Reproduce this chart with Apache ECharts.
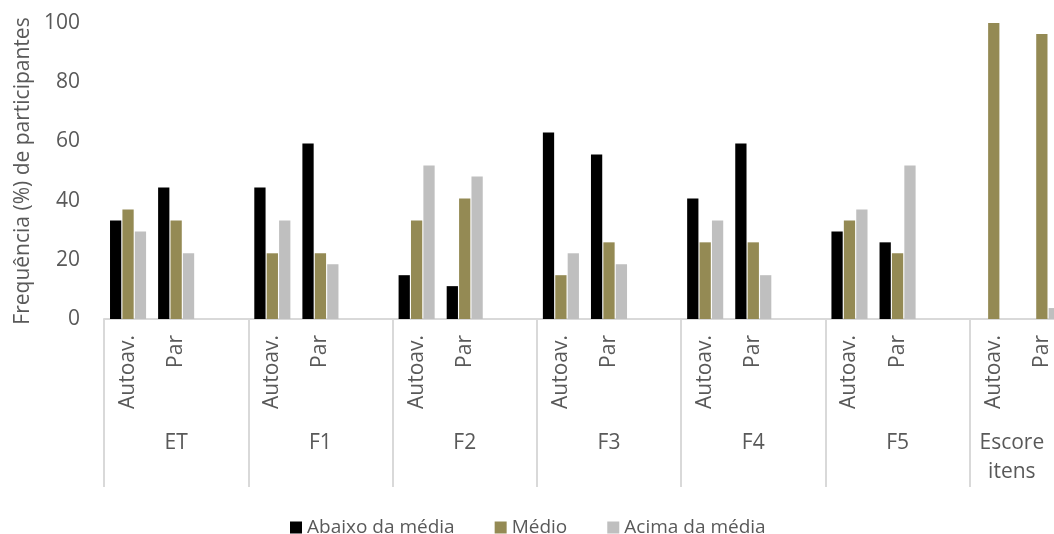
<!DOCTYPE html>
<html>
<head>
<meta charset="utf-8">
<script src="https://cdn.jsdelivr.net/npm/echarts@6/dist/echarts.min.js"></script>
<style>
html,body{margin:0;padding:0;background:#fff;overflow:hidden;width:1054px;height:534px;}
#chart{width:1114px;height:534px;}
</style>
</head>
<body>
<div id="chart"></div>
<script>
// Data
const groups = ['ET', 'F1', 'F2', 'F3', 'F4', 'F5', 'Escore\nitens'];
const subCategories = ['Autoav.', 'Par'];
const seriesNames = ['Abaixo da média', 'Médio', 'Acima da média'];
// values in order: ET Autoav, ET Par, F1 Autoav, F1 Par, ... Escore Autoav, Escore Par
const abaixo = [33.3, 44.4, 44.4, 59.3, 14.8, 11.1, 63.0, 55.6, 40.7, 59.3, 29.6, 25.9, 0, 0];
const medio  = [37.0, 33.3, 22.2, 22.2, 33.3, 40.7, 14.8, 25.9, 25.9, 25.9, 33.3, 22.2, 100, 96.3];
const acima  = [29.6, 22.2, 33.3, 18.5, 51.9, 48.1, 22.2, 18.5, 33.3, 14.8, 37.0, 51.9, 0, 3.7];
const yTicks = { min: 0, max: 100, interval: 20 };

// Build category slots: each group has its sub-categories plus one empty spacer slot
const slotLabels = [];
groups.forEach(() => { subCategories.forEach(s => slotLabels.push(s)); slotLabels.push(''); });
function expand(arr) {
  const out = [];
  let k = 0;
  groups.forEach(() => {
    subCategories.forEach(() => { out.push(arr[k++]); });
    out.push(null);
  });
  return out;
}
const colors = ['#000000', '#948A54', '#BFBFBF'];
const values = [abaixo, medio, acima];

const textColor = '#595959';
const font = '"Open Sans", "Noto Sans", sans-serif';

// last group is partly outside the visible area: its label is centred on the visible part
const groupAxisData = groups.map((g, i) => i === groups.length - 1
  ? { value: g, textStyle: { padding: [0, 60, 0, 0] } }
  : g);

const chart = echarts.init(document.getElementById('chart'), null, { renderer: 'canvas' });
chart.setOption({
  animation: false,
  backgroundColor: '#ffffff',
  textStyle: { fontFamily: font, color: textColor },
  grid: { left: 104, right: 0, top: 23, bottom: 215, containLabel: false, outerBoundsMode: 'none' },
  legend: {
    data: seriesNames,
    left: 285,
    top: 513,
    itemWidth: 12,
    itemHeight: 12,
    itemGap: 40,
    icon: 'rect',
    textStyle: { fontSize: 19, color: textColor, fontFamily: font }
  },
  xAxis: [
    {
      type: 'category',
      data: slotLabels,
      position: 'bottom',
      axisLine: { show: true, lineStyle: { color: '#D9D9D9', width: 2 } },
      axisTick: { show: false },
      axisLabel: { rotate: 90, interval: 0, margin: 16, fontSize: 21, color: textColor, fontFamily: font },
      splitLine: { show: false }
    },
    {
      type: 'category',
      data: groupAxisData,
      position: 'bottom',
      offset: 0,
      axisLine: { show: false },
      axisTick: { show: true, length: 168, lineStyle: { color: '#D9D9D9', width: 2 } },
      axisLabel: { interval: 0, margin: 110, fontSize: 21, lineHeight: 29, color: textColor, fontFamily: font },
      splitLine: { show: false }
    }
  ],
  yAxis: {
    type: 'value',
    min: yTicks.min,
    max: yTicks.max,
    interval: yTicks.interval,
    name: 'Frequência (%) de participantes',
    nameLocation: 'middle',
    nameGap: 67,
    nameTextStyle: { fontSize: 21, color: textColor, fontFamily: font },
    axisLine: { show: false },
    axisTick: { show: false },
    splitLine: { show: false },
    axisLabel: { fontSize: 21, color: textColor, margin: 24, fontFamily: font }
  },
  series: seriesNames.map((name, i) => ({
    name: name,
    type: 'bar',
    xAxisIndex: 0,
    data: expand(values[i]),
    itemStyle: { color: colors[i] },
    barGap: '10%',
    barCategoryGap: '25%'
  }))
});
</script>
</body>
</html>
